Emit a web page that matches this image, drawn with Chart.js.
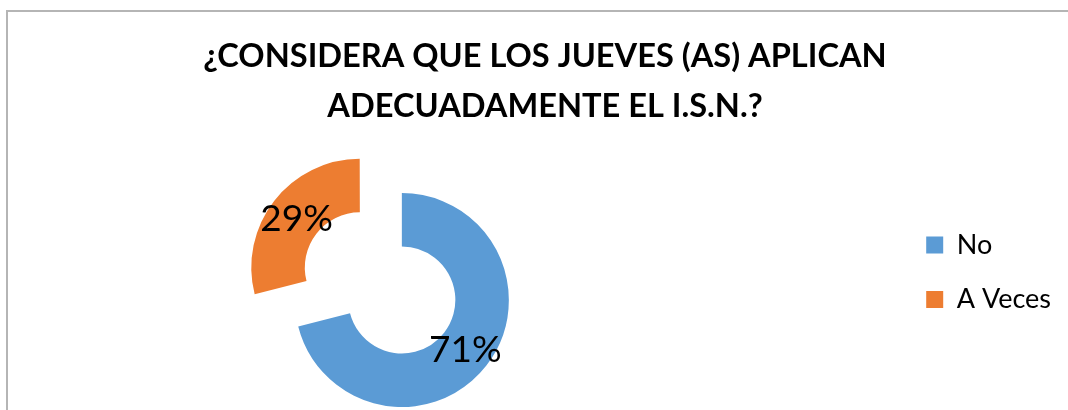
<!DOCTYPE html>
<html>
<head>
<meta charset="utf-8">
<title>¿Considera que los jueves (as) aplican adecuadamente el I.S.N.?</title>
<script src="https://cdn.jsdelivr.net/npm/chart.js@4.4.0/dist/chart.umd.min.js"></script>
<style>
  html, body { margin: 0; padding: 0; background: #fff; overflow: hidden; }
  .frame {
    position: absolute; left: 6px; top: 10px; right: 0; bottom: 0;
    border-left: 2px solid #b5b5b5; border-top: 2px solid #b5b5b5;
  }
  .chart-box { position: absolute; left: 0; top: 0; width: 1068px; height: 410px; }
</style>
</head>
<body>
<div class="frame"></div>
<div class="chart-box"><canvas id="isnChart"></canvas></div>

<script>
const categories = ['No', 'A Veces'];
const percents = [71, 29];
const sliceColors = ['#5B9BD5', '#ED7D31'];
const titleLines = ['¿CONSIDERA QUE LOS JUEVES (AS) APLICAN', 'ADECUADAMENTE EL I.S.N.?'];

const EXPLODE = 53;      // px the "A Veces" slice is pulled out of the ring
const LEGEND_GAP = 124;  // empty room between the ring and the legend

// percentage text in the middle of each ring segment
const sliceLabels = {
    id: 'sliceLabels',
    afterDatasetsDraw(chart) {
        const ctx = chart.ctx;
        const meta = chart.getDatasetMeta(0);
        const total = percents.reduce((a, b) => a + b, 0);
        ctx.save();
        ctx.font = '37px Lato';
        ctx.fillStyle = '#000';
        ctx.textAlign = 'center';
        ctx.textBaseline = 'middle';
        meta.data.forEach((arc, i) => {
            const mid = (arc.startAngle + arc.endAngle) / 2;
            // v4 arcs are shifted by offset / 4
            const r = (arc.innerRadius + arc.outerRadius) / 2 + (arc.options.offset || 0) / 4;
            const txt = Math.round(percents[i] / total * 100) + '%';
            ctx.fillText(txt, arc.x + Math.cos(mid) * r, arc.y + Math.sin(mid) * r + 1);
        });
        ctx.restore();
    }
};

new Chart(document.getElementById('isnChart'), {
    type: 'doughnut',
    data: {
        labels: categories,
        datasets: [{
            data: percents,
            backgroundColor: sliceColors,
            borderWidth: 0,
            offset: [0, EXPLODE * 4],
            hoverOffset: 0
        }]
    },
    options: {
        responsive: true,
        maintainAspectRatio: false,
        animation: false,
        radius: 107,
        cutout: '50%',
        layout: { padding: { left: 29, right: 7, top: 0, bottom: 14 } },
        plugins: {
            title: {
                display: true,
                text: titleLines,
                color: '#000',
                font: { family: 'Lato', size: 32.6, weight: 'bold', lineHeight: '50px' },
                padding: { top: 31, bottom: 73 }
            },
            // blank box on the right, keeps the legend away from the ring
            subtitle: {
                display: true,
                position: 'right',
                text: '',
                fullSize: false,
                weight: 500,
                font: { size: 10, lineHeight: '10px' },
                padding: { top: LEGEND_GAP - 10, bottom: 0 }
            },
            legend: {
                position: 'right',
                align: 'start',
                fullSize: false,
                labels: {
                    color: '#000',
                    font: { family: 'Lato', size: 27 },
                    boxWidth: 17,
                    boxHeight: 17,
                    padding: 27.5
                }
            },
            tooltip: { enabled: false }
        }
    },
    plugins: [sliceLabels]
});
</script>
</body>
</html>
